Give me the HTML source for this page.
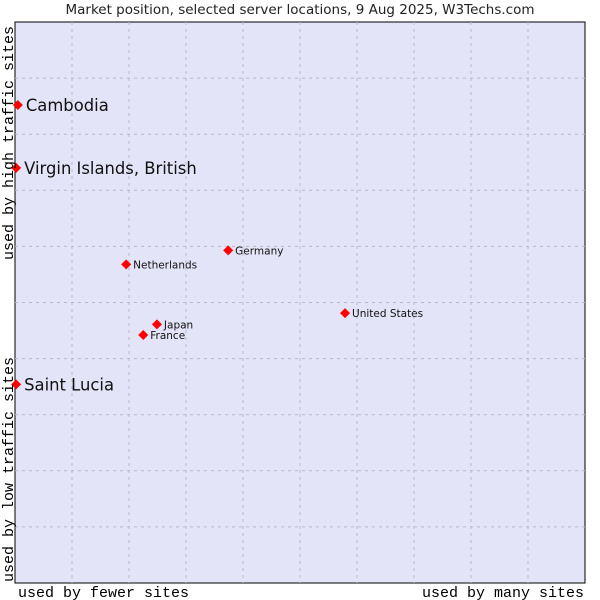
<!DOCTYPE html>
<html><head><meta charset="utf-8"><style>
body{margin:0;background:#fff}
svg{display:block}
</style></head><body>
<svg id="chart" width="600" height="600" xmlns="http://www.w3.org/2000/svg">
<text x="300" y="14" text-anchor="middle" font-family="DejaVu Sans, sans-serif" font-size="13.5" fill="#222">Market position, selected server locations, 9 Aug 2025, W3Techs.com</text>
<rect x="15" y="22" width="570" height="561" fill="#e4e4f8" stroke="#000" stroke-width="1"/>
<g id="grid"></g>
<g id="points"></g>
<text x="18" y="597" font-family="Liberation Mono, DejaVu Sans Mono, monospace" font-size="15" fill="#000">used by fewer sites</text>
<text x="584" y="597" text-anchor="end" font-family="Liberation Mono, DejaVu Sans Mono, monospace" font-size="15" fill="#000">used by many sites</text>
<text transform="translate(13,260) rotate(-90)" font-family="Liberation Mono, DejaVu Sans Mono, monospace" font-size="15" fill="#000">used by high traffic sites</text>
<text transform="translate(13,582) rotate(-90)" font-family="Liberation Mono, DejaVu Sans Mono, monospace" font-size="15" fill="#000">used by low traffic sites</text>
</svg>
<script>
const names=["Cambodia","Virgin Islands, British","Saint Lucia","Netherlands","Germany","United States","Japan","France"];
const xVals=[0.5,0.2,0.2,19.5,37.4,57.9,24.9,22.5];
const yVals=[85.2,74.0,35.4,56.8,59.3,48.1,46.1,44.2];
const bigLabel=[true,true,true,false,false,false,false,false];
const NS="http://www.w3.org/2000/svg";
const L=15,T=22,W=570,H=561;
const xs=v=>L+v/100*W, ys=v=>T+H-v/100*H;
const grid=document.getElementById('grid');
for(let i=1;i<10;i++){
  const x=L+i*57;
  const l=document.createElementNS(NS,'line');
  l.setAttribute('x1',x);l.setAttribute('x2',x);l.setAttribute('y1',T);l.setAttribute('y2',T+H);
  l.setAttribute('stroke','#b8b8c0');l.setAttribute('stroke-dasharray','3,4');
  
  
  grid.appendChild(l);
  const y=T+i*H/10;
  const h=document.createElementNS(NS,'line');
  h.setAttribute('x1',L);h.setAttribute('x2',L+W);h.setAttribute('y1',y);h.setAttribute('y2',y);
  h.setAttribute('stroke','#b8b8c0');h.setAttribute('stroke-dasharray','3,4');
  
  
  grid.appendChild(h);
}
const pts=document.getElementById('points');
names.forEach((n,i)=>{
  const x=xs(xVals[i]),y=ys(yVals[i]);
  const d=document.createElementNS(NS,'polygon');
  d.setAttribute('points',`${x},${y-5} ${x+5},${y} ${x},${y+5} ${x-5},${y}`);
  d.setAttribute('fill','#f00');
  
  
  pts.appendChild(d);
  const t=document.createElementNS(NS,'text');
  t.setAttribute('x',x+(bigLabel[i]?8:7));
  t.setAttribute('y',y+(bigLabel[i]?6:4));
  t.setAttribute('font-family','DejaVu Sans, sans-serif');
  t.setAttribute('font-size',bigLabel[i]?16.4:10.5);
  t.setAttribute('fill','#111');
  t.textContent=n;
  
  
  pts.appendChild(t);
});
</script>
</body></html>
